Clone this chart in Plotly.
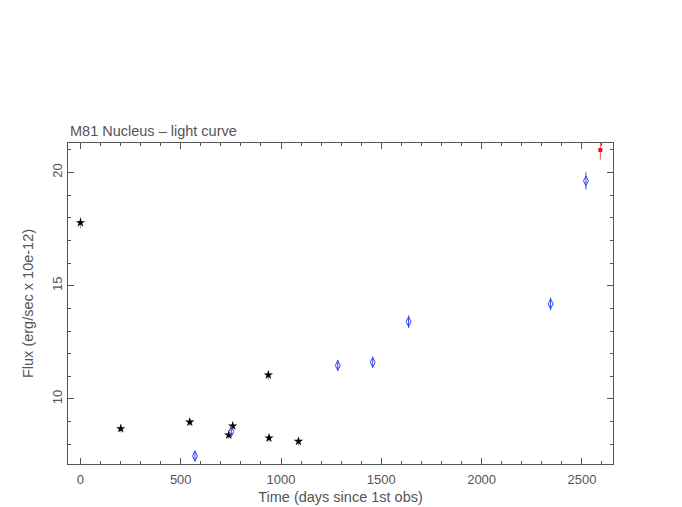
import plotly.graph_objects as go

# Black stars
star_t = [0, 201, 545, 739, 759, 937, 940, 1087]
star_f = [17.78, 8.69, 8.98, 8.41, 8.81, 11.06, 8.28, 8.13]
star_e = [0.25, 0.18, 0.18, 0.18, 0.18, 0.2, 0.18, 0.18]

# Blue open diamonds
blue_t = [571, 752, 1283, 1457, 1636, 2344, 2520]
blue_f = [7.48, 8.56, 11.48, 11.62, 13.41, 14.20, 19.63]
blue_e = [0.25, 0.25, 0.25, 0.25, 0.28, 0.28, 0.38]

# Red point
red_t = [2592]
red_f = [20.99]
red_e = [0.42]

title_text = "M81 Nucleus \u2013 light curve"
xtitle = "Time (days since 1st obs)"
ytitle = "Flux (erg/sec x 10e-12)"

FONT = "Liberation Sans, Arial, sans-serif"
GRAY = "#555555"

fig = go.Figure()
fig.add_trace(go.Scatter(
    x=star_t, y=star_f, mode="markers",
    marker=dict(symbol="star", size=7, color="black"),
    error_y=dict(type="data", array=star_e, color="#999999", thickness=1, width=0),
    showlegend=False))
fig.add_trace(go.Scatter(
    x=blue_t, y=blue_f, mode="markers",
    marker=dict(symbol="diamond-tall-open", size=7, color="#3344ee", line=dict(width=1)),
    error_y=dict(type="data", array=blue_e, color="#3344ee", thickness=1, width=0),
    showlegend=False))
fig.add_trace(go.Scatter(
    x=red_t, y=red_f, mode="markers",
    marker=dict(symbol="square", size=4, color="#ee1111"),
    error_y=dict(type="data", array=red_e, color="#ee5555", thickness=1, width=0),
    showlegend=False))

axis_common = dict(
    showline=True, linecolor=GRAY, linewidth=1, mirror="ticks",
    ticks="inside", ticklen=6, tickcolor=GRAY, showgrid=False, zeroline=False,
    tickfont=dict(family=FONT, size=13, color=GRAY),
)

fig.update_layout(
    width=682, height=507,
    margin=dict(l=60, r=77, t=135, b=48),
    paper_bgcolor="white", plot_bgcolor="white",
    xaxis=dict(range=[-62, 2655], tickvals=[0, 500, 1000, 1500, 2000, 2500],
               minor=dict(ticks="inside", dtick=100, tick0=0, ticklen=3, tickcolor=GRAY),
               ticklabelstandoff=3,
               title=dict(text=xtitle, standoff=6, font=dict(family=FONT, size=14.5, color=GRAY)),
               **axis_common),
    yaxis=dict(range=[7.13, 21.3], tickvals=[10, 15, 20], tickangle=-90,
               minor=dict(ticks="inside", dtick=1, tick0=0, ticklen=3, tickcolor=GRAY),
               title=dict(text=ytitle, standoff=12, font=dict(family=FONT, size=14.5, color=GRAY)),
               **axis_common),
    annotations=[dict(text=title_text, x=0, y=1, xref="paper", yref="paper",
                      xanchor="left", yanchor="bottom", yshift=2, showarrow=False,
                      font=dict(family=FONT, size=14.5, color=GRAY))],
)

fig.write_html("out.html")
